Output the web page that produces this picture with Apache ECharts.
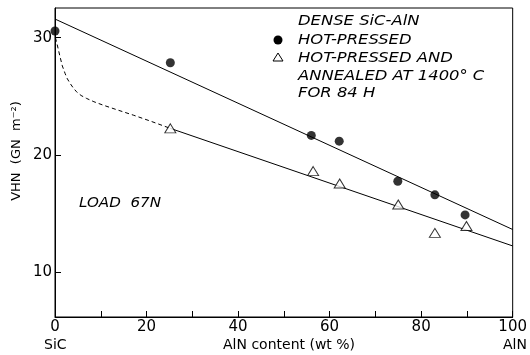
<!DOCTYPE html>
<html><head><meta charset="utf-8">
<script src="https://cdn.jsdelivr.net/npm/echarts@6/dist/echarts.min.js"></script>
<style>html,body{margin:0;padding:0;background:#fff}#c{width:530px;height:355px}</style>
</head><body><div id="c"></div>
<script>
// Data
const hotPressed = [[0,30.57],[25.2,27.87],[56,21.68],[62.1,21.19],[74.9,17.78],[83,16.62],[89.6,14.91]];
const annealed = [[25.2,22.28],[56.4,18.64],[62.2,17.59],[75,15.80],[83,13.38],[89.9,13.97]];
const fitHot = [[0,31.59],[100,13.67]];
const fitAnnealed = [[25.2,22.28],[100,12.27]];
const dashedCurve = [[0.1,30.0],[0.5,29.38],[1.1,28.38],[1.6,27.6],[2.2,26.96],[2.7,26.5],[3.3,26.11],[4.0,25.72],[4.7,25.40],[5.7,25.08],[6.9,24.83],[8.5,24.55],[10.5,24.26],[13.8,23.83],[17.1,23.41],[21,22.88],[25.2,22.28]];
const yTicks = [10,20,30];
const xLabels = {0:'0',20:'20',40:'40',60:'60',80:'80',100:'100'};

const chart = echarts.init(document.getElementById('c'));
const font = 'DejaVu Sans';
const legendFont = 'italic 14px "DejaVu Sans"';
chart.setOption({
  animation: false,
  backgroundColor: '#fff',
  grid: {left: 55, right: 16, top: 8, bottom: 38, show: true, borderColor: '#000', borderWidth: 1},
  xAxis: {
    type: 'value', min: 0, max: 100, interval: 10,
    axisLine: {lineStyle: {color: '#000', width: 1}},
    axisTick: {inside: true, length: 6, lineStyle: {color: '#000'}},
    splitLine: {show: false},
    axisLabel: {color: '#000', fontFamily: font, fontSize: 15, margin: 3,
      formatter: v => xLabels[v] !== undefined ? xLabels[v] : ''}
  },
  yAxis: {
    type: 'value', min: 6.22, max: 32.53,
    axisLine: {lineStyle: {color: '#000', width: 1}},
    axisTick: {inside: true, length: 6, customValues: yTicks, lineStyle: {color: '#000'}},
    splitLine: {show: false},
    axisLabel: {color: '#000', fontFamily: font, fontSize: 15, margin: 3, customValues: yTicks}
  },
  graphic: [
    {type: 'text', x: 17, y: 151, rotation: Math.PI / 2, style: {text: 'VHN  (GN  m\u207B\u00B2)', font: '13px "DejaVu Sans"', fill: '#000', align: 'center', verticalAlign: 'middle'}},
    {type: 'text', left: 44, top: 338, style: {text: 'SiC', font: '14px "DejaVu Sans"', fill: '#000'}},
    {type: 'text', left: 223, top: 338, style: {text: 'AlN content (wt %)', font: '14px "DejaVu Sans"', fill: '#000'}},
    {type: 'text', left: 503, top: 338, style: {text: 'AlN', font: '14px "DejaVu Sans"', fill: '#000'}},
    {type: 'text', x: 79, y: 203, scaleX: 1.08, style: {text: 'LOAD  67N', font: legendFont, fill: '#000', verticalAlign: 'middle'}},
    {type: 'text', x: 298, y: 21, scaleX: 1.17, style: {text: 'DENSE SiC-AlN', font: legendFont, fill: '#000', verticalAlign: 'middle'}},
    {type: 'circle', shape: {cx: 278, cy: 40, r: 4.5}, style: {fill: '#000'}},
    {type: 'text', x: 298, y: 40, scaleX: 1.17, style: {text: 'HOT-PRESSED', font: legendFont, fill: '#000', verticalAlign: 'middle'}},
    {type: 'polygon', shape: {points: [[278,53],[273,61],[283,61]]}, style: {fill: '#fff', stroke: '#000', lineWidth: 1}},
    {type: 'text', x: 298, y: 58, scaleX: 1.17, style: {text: 'HOT-PRESSED AND', font: legendFont, fill: '#000', verticalAlign: 'middle'}},
    {type: 'text', x: 298, y: 76, scaleX: 1.17, style: {text: 'ANNEALED AT 1400\u00B0 C', font: legendFont, fill: '#000', verticalAlign: 'middle'}},
    {type: 'text', x: 298, y: 93, scaleX: 1.17, style: {text: 'FOR 84 H', font: legendFont, fill: '#000', verticalAlign: 'middle'}}
  ],
  series: [
    {type: 'line', data: fitHot, symbol: 'none', lineStyle: {color: '#000', width: 1}, z: 1},
    {type: 'line', data: fitAnnealed, symbol: 'none', lineStyle: {color: '#000', width: 1}, z: 1},
    {type: 'line', data: dashedCurve, symbol: 'none', smooth: false, lineStyle: {color: '#000', width: 1, type: [4, 3]}, z: 1},
    {type: 'scatter', data: hotPressed, symbol: 'circle', symbolSize: 9, itemStyle: {color: '#000'}, z: 3},
    {type: 'scatter', data: annealed, symbol: 'triangle', symbolSize: [11, 9], itemStyle: {color: '#fff', borderColor: '#000', borderWidth: 1}, z: 3}
  ]
});
</script></body></html>
